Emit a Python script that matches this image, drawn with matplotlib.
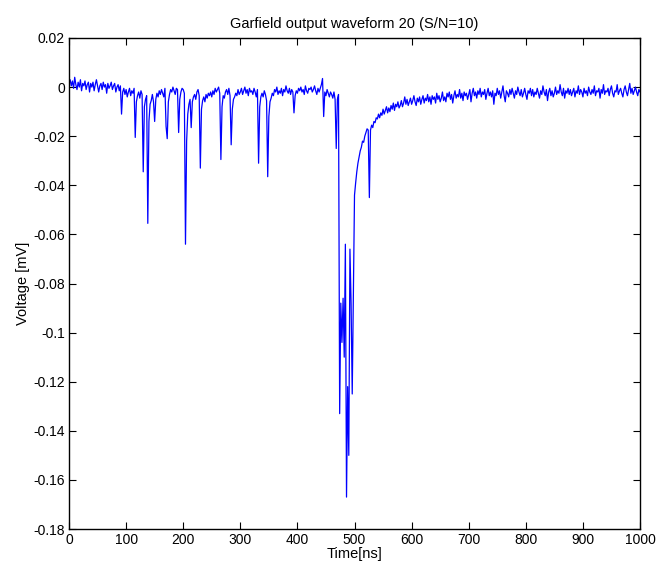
"""Garfield output waveform 20 (S/N=10) — MATLAB-style line plot."""
import numpy as np
import matplotlib
matplotlib.use("Agg")
import matplotlib.pyplot as plt

plt.rcParams["font.family"] = ["Liberation Sans", "DejaVu Sans"]

# sampling grid (ns), one value every 2 ns
time_step_ns = 2
time_end_ns = 1000

# waveform, in units of 1e-3 mV
wave_milli = [
    1.5, 3.0, 0.5, 2.5, -0.5, 4.0, 1.0, -1.0, 2.0, 0.0,                    # t=0
    3.0, -1.5, 1.5, 0.5, 2.5, -1.0, 1.0, 2.0, -2.0, 1.5,                   # t=20
    0.0, 2.0, -1.5, 1.0, 3.0, 0.5, -2.0, 0.5, 1.5, -1.0,                   # t=40
    2.0, 0.0, 1.0, -2.5, 1.5, -0.5, 0.5, 2.0, -1.0, 0.5,                   # t=60
    1.5, -2.0, 0.0, 1.0, -1.5, 0.5, -11.0, -2.0, -0.5, -3.0,               # t=80
    -1.0, -4.0, -2.0, -0.5, -3.5, -1.5, -2.5, -0.5, -20.5, -6.0,           # t=100
    -3.5, -2.0, -4.5, -1.5, -3.0, -34.5, -8.0, -5.0, -3.5, -55.5,          # t=120
    -14.0, -7.0, -5.5, -3.0, -6.0, -14.0, -5.0, -2.5, -4.0, -1.5,          # t=140
    -3.0, -1.0, -2.5, -4.0, -0.5, -16.0, -21.0, -6.0, -3.0, -1.0,          # t=160
    -2.0, 0.0, -1.5, -3.0, -0.5, -1.0, -18.5, -5.0, -2.0, -0.5,            # t=180
    -1.0, -2.5, -64.0, -22.0, -11.0, -7.0, -5.0, -16.5, -6.0, -4.0,        # t=200
    -3.0, -5.0, -2.0, -1.0, -3.5, -33.0, -9.0, -5.5, -4.0, -6.0,           # t=220
    -3.0, -4.5, -2.5, -3.5, -2.0, -4.0, -1.5, -3.0, -0.5, -2.0,            # t=240
    -1.0, 0.0, -2.5, -29.5, -8.0, -3.5, -4.5, -2.0, -1.0, -3.0,            # t=260
    -0.5, -3.5, -23.5, -9.0, -5.0, -4.0, -2.5, -3.5, -1.0, -3.0,           # t=280
    -2.0, -0.5, -3.0, -1.5, 0.0, -2.5, -1.0, -3.5, -0.5, -2.0,             # t=300
    -1.5, -3.0, -0.5, -2.0, -4.0, -1.0, -31.0, -8.0, -4.0, -2.5,           # t=320
    -4.0, -1.5, -3.0, -5.5, -36.5, -12.0, -6.0, -4.5, -2.5, -3.5,          # t=340
    -1.0, -2.0, 0.0, -3.0, -1.5, -2.5, -0.5, -3.5, -1.0, -2.0,             # t=360
    0.5, -1.5, -2.5, -0.5, -3.0, -1.0, -2.0, -10.5, -3.5, -1.5,            # t=380
    -2.5, -0.5, -1.5, 0.0, -2.0, -1.0, -3.0, 0.5, -1.5, -2.5,              # t=400
    -0.5, -1.0, 0.0, -2.0, -1.0, 0.5, -1.5, -3.0, -0.5, -2.0,              # t=420
    -0.5, 1.0, 3.5, -12.0, -2.0, -3.5, -1.0, -2.5, -4.0, -2.0,             # t=440
    -3.0, -4.5, -2.0, -5.0, -25.0, -5.0, -3.0, -133.0, -88.0, -104.0,      # t=460
    -86.0, -110.0, -64.0, -167.0, -122.0, -150.0, -66.0, -88.0, -125.0, -86.0,  # t=480
    -44.0, -39.0, -34.5, -31.0, -28.5, -26.0, -24.5, -22.0, -22.5, -20.0,  # t=500
    -18.5, -17.0, -17.5, -45.0, -17.5, -15.5, -16.5, -14.0, -14.5, -12.5,  # t=520
    -13.0, -11.0, -12.5, -10.5, -11.5, -9.0, -11.0, -9.5, -8.0, -10.5,     # t=540
    -8.5, -10.0, -7.5, -9.0, -6.5, -9.5, -7.0, -8.0, -6.0, -8.5,           # t=560
    -7.5, -5.5, -8.0, -6.5, -4.0, -7.0, -5.0, -7.5, -6.0, -4.5,            # t=580
    -7.0, -5.5, -3.5, -6.0, -7.5, -4.5, -6.0, -4.0, -7.0, -5.0,            # t=600
    -3.5, -6.5, -4.5, -5.5, -3.0, -6.0, -4.0, -7.0, -3.5, -5.0,            # t=620
    -4.0, -6.5, -2.5, -5.0, -3.5, -6.0, -4.5, -2.0, -5.5, -4.0,            # t=640
    -6.0, -2.5, -4.0, -2.0, -5.0, -3.0, -6.5, -3.5, -1.5, -4.5,            # t=660
    -3.0, -4.0, -1.0, -4.5, -2.5, -5.5, -2.0, -3.5, -2.5, -5.0,            # t=680
    -3.0, -1.0, -6.0, -2.5, -0.5, -3.5, -2.0, -4.5, -1.5, -3.0,            # t=700
    -0.5, -4.0, -2.0, -3.0, -1.0, -5.0, -2.5, -0.5, -3.5, -2.0,            # t=720
    -4.0, -1.5, -7.0, -2.5, -3.5, -0.5, -3.0, -1.5, -4.5, -2.0,            # t=740
    0.5, -3.5, -6.0, -1.5, -2.5, -4.0, -1.0, -3.0, -0.5, -2.5,             # t=760
    -4.5, -1.5, -3.0, 0.0, -2.0, -3.5, -1.0, -4.0, -2.5, -0.5,             # t=780
    -3.0, -5.0, -1.5, -2.5, -0.5, -3.5, -1.0, -4.0, -2.0, -3.0,            # t=800
    -0.5, -2.5, -4.5, -1.5, -3.0, 0.5, -2.0, -3.5, -1.0, -5.5,             # t=820
    -2.0, -0.5, -3.5, -1.5, -4.0, -2.5, 0.0, -3.0, -1.5, -2.5,             # t=840
    1.0, -2.0, -3.5, -0.5, -4.5, -1.5, -2.5, -0.5, -3.0, -1.0,             # t=860
    -3.5, -2.0, -0.5, -4.0, -1.5, -2.5, 0.5, -3.0, -1.0, -2.0,             # t=880
    -4.0, -0.5, -2.5, -1.5, -3.5, 0.0, -2.0, -3.0, -1.0, -2.5,             # t=900
    0.5, -3.5, -1.5, -2.0, -0.5, -4.5, -1.0, -2.5, 1.0, -3.0,              # t=920
    -1.5, -2.0, -0.5, -3.5, -1.0, 0.5, -2.5, -4.0, -1.5, -2.0,             # t=940
    1.0, -3.0, -1.5, -0.5, -2.5, -4.0, -1.0, 0.5, -2.0, -3.5,              # t=960
    -1.0, 1.5, -2.5, -0.5, -3.0, -1.5, 0.0, -2.0, -3.5, -1.0,              # t=980
    -2.0,                                                                   # t=1000
]

x_ticks = [0, 100, 200, 300, 400, 500, 600, 700, 800, 900, 1000]
y_ticks = [-0.18, -0.16, -0.14, -0.12, -0.1, -0.08, -0.06, -0.04, -0.02, 0, 0.02]
y_tick_labels = ["-0.18", "-0.16", "-0.14", "-0.12", "-0.1", "-0.08",
                 "-0.06", "-0.04", "-0.02", "0", "0.02"]

t = np.arange(0, time_end_ns + 1, time_step_ns)
v = np.array(wave_milli) / 1000.0

fig = plt.figure(figsize=(6.59, 5.62), dpi=100)
ax = fig.add_axes([0.1047, 0.0587, 0.8665, 0.8737])
ax.plot(t, v, color="#0000ff", lw=0.9)

ax.set_xlim(0, 1000)
ax.set_ylim(-0.18, 0.02)
ax.set_xticks(x_ticks)
ax.set_yticks(y_ticks)
ax.set_yticklabels(y_tick_labels)
ax.tick_params(direction="in", top=True, right=True, length=5, width=0.8,
               labelsize=10, pad=3)
for s in ax.spines.values():
    s.set_linewidth(1.0)

ax.set_title("Garfield output waveform 20 (S/N=10)", fontsize=10.5, pad=7)
ax.set_xlabel("Time[ns]", fontsize=10.5, labelpad=0)
ax.set_ylabel("Voltage [mV]", fontsize=10.5, labelpad=2)

fig.savefig("out.png", dpi=100)
